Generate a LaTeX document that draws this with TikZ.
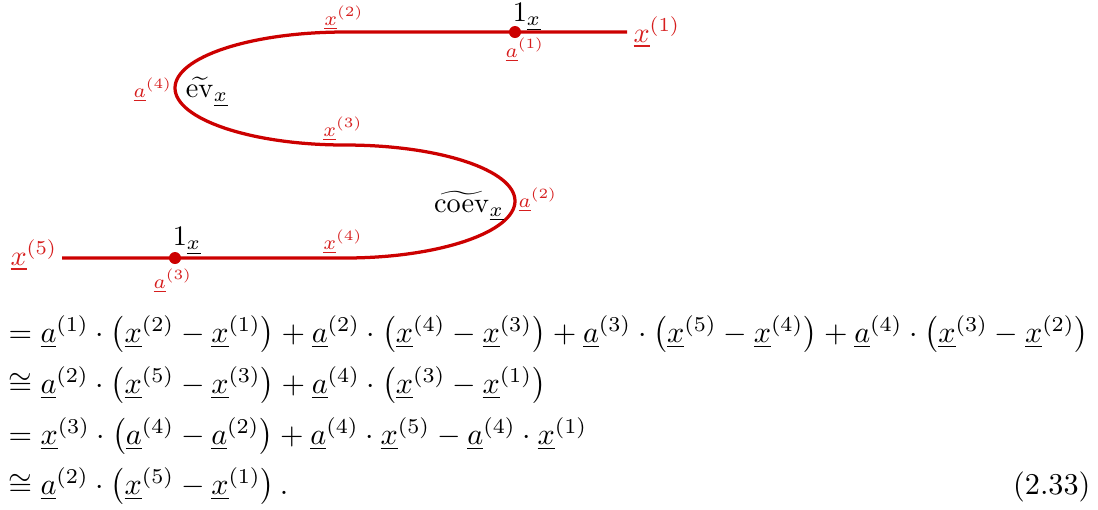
\documentclass[tikz,border=0pt]{standalone}
\usepackage{amsmath,amssymb}
\definecolor{cred}{RGB}{204,0,0}
\definecolor{lred}{RGB}{214,30,30}
\newcommand{\ulx}{\underline{x}}
\newcommand{\ula}{\underline{a}}
\begin{document}
\begin{tikzpicture}[x=0.3534pt,y=-0.3534pt,
  wire/.style={cred,line width=1.15pt},
  dotc/.style={fill=cred},
  sm/.style={text=lred,font=\scriptsize,inner sep=0pt},
  big/.style={text=lred,inner sep=0pt},
  blk/.style={inner sep=0pt},
  eq/.style={anchor=base west,inner sep=0pt,transform shape,scale=1.068}]
\useasboundingbox (0,0) rectangle (1098,509);
% wire
\coordinate (tR) at (627,32);
\coordinate (d1) at (515,32);
\coordinate (t1) at (345,32);
\coordinate (L) at (175,88);
\coordinate (m) at (345,145);
\coordinate (R) at (515,201);
\coordinate (b1) at (345,258);
\coordinate (d2) at (175,258);
\coordinate (bL) at (62,258);
\draw[wire] (tR) -- (d1) -- (t1) .. controls (251,32) and (175,57) .. (L)
  .. controls (175,119) and (251,145) .. (m)
  .. controls (439,145) and (515,170) .. (R)
  .. controls (515,232) and (439,258) .. (b1) -- (d2) -- (bL);
\fill[dotc] (d1) circle (6);
\fill[dotc] (d2) circle (6);
% labels
\node[sm] (lx2) at (344,18) {$\ulx^{(2)}$};
\node[blk] (one1) at (527,17) {$1_{\ulx}$};
\node[sm] (la1) at (525,50) {$\ula^{(1)}$};
\node[big,anchor=base west] (lx1) at (633,42) {$\ulx^{(1)}$};
\node[sm] (la4) at (153,90) {$\ula^{(4)}$};
\node[blk] (ev) at (207,92) {$\widetilde{\mathrm{ev}}_{\ulx}$};
\node[sm] (lx3) at (343,129) {$\ulx^{(3)}$};
\node[blk] (coev) at (469,206) {$\widetilde{\mathrm{coev}}_{\ulx}$};
\node[sm] (la2) at (538,200) {$\ula^{(2)}$};
\node[sm] (lx4) at (343,242) {$\ulx^{(4)}$};
\node[blk] (one2) at (187,241) {$1_{\ulx}$};
\node[sm] (la3) at (173,281) {$\ula^{(3)}$};
\node[big,anchor=base west] (lx5) at (10,265) {$\ulx^{(5)}$};
% equations
\node[eq] (e1) at (8,342) {$=\ula^{(1)}\cdot\bigl(\ulx^{(2)}-\ulx^{(1)}\bigr)+\ula^{(2)}\cdot\bigl(\ulx^{(4)}-\ulx^{(3)}\bigr)+\ula^{(3)}\cdot\bigl(\ulx^{(5)}-\ulx^{(4)}\bigr)+\ula^{(4)}\cdot\bigl(\ulx^{(3)}-\ulx^{(2)}\bigr)$};
\node[eq] (e2) at (8,393) {$\cong\ula^{(2)}\cdot\bigl(\ulx^{(5)}-\ulx^{(3)}\bigr)+\ula^{(4)}\cdot\bigl(\ulx^{(3)}-\ulx^{(1)}\bigr)$};
\node[eq] (e3) at (8,444) {$=\ulx^{(3)}\cdot\bigl(\ula^{(4)}-\ula^{(2)}\bigr)+\ula^{(4)}\cdot\ulx^{(5)}-\ula^{(4)}\cdot\ulx^{(1)}$};
\node[eq] (e4) at (8,494) {$\cong\ula^{(2)}\cdot\bigl(\ulx^{(5)}-\ulx^{(1)}\bigr)\,.$};
\node[eq,anchor=base east] (num) at (1091,494) {(2.33)};
\end{tikzpicture}
\end{document}
